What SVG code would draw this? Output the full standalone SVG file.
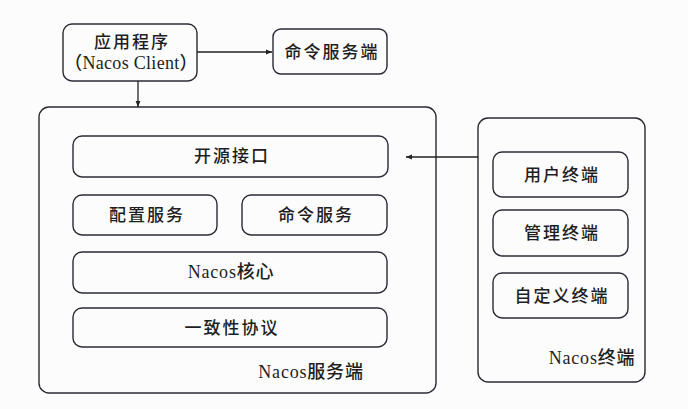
<svg xmlns="http://www.w3.org/2000/svg" width="688" height="409" viewBox="0 0 688 409">
<style>
.box{fill:none;stroke:#2a2a35;stroke-width:1.4}
.t{font-family:"Liberation Serif","Noto Sans CJK SC",serif;font-size:17px;font-weight:500;fill:#1e1e1e;text-anchor:middle;dominant-baseline:central;letter-spacing:2px}
.l{letter-spacing:0.8px;font-size:18px}
.c{stroke:#222;stroke-width:1.3;fill:none}
</style>
<defs>
<marker id="ah" viewBox="0 0 10 10" refX="10" refY="5" markerWidth="8" markerHeight="6" orient="auto" markerUnits="userSpaceOnUse">
<path d="M0,1 L10,5 L0,9 z" fill="#222"/>
</marker>
</defs>
<rect width="688" height="409" fill="#fcfcfc"/>
<g id="app">
<rect class="box" x="63" y="24" width="134" height="57" rx="9"/>
<text class="t" x="132" y="42">应用程序</text>
<text class="t" x="131" y="63" style="letter-spacing:0.3px;font-size:18px">（Nacos Client）</text>
</g>
<g id="cmd-server">
<rect class="box" x="273" y="29" width="114" height="45" rx="8"/>
<text class="t" x="332" y="52">命令服务端</text>
</g>
<g id="nacos-server">
<rect class="box" x="39" y="107" width="397" height="286" rx="10"/>
<text class="t l" x="311" y="372">Nacos服务端</text>
</g>
<g id="open-api">
<rect class="box" x="73" y="136" width="315" height="41" rx="9"/>
<text class="t" x="232" y="156">开源接口</text>
</g>
<g id="config-svc">
<rect class="box" x="73" y="195" width="144" height="40" rx="9"/>
<text class="t" x="147" y="215">配置服务</text>
</g>
<g id="cmd-svc">
<rect class="box" x="242" y="195" width="145" height="40" rx="9"/>
<text class="t" x="316" y="215">命令服务</text>
</g>
<g id="nacos-core">
<rect class="box" x="73" y="252" width="314" height="41" rx="9"/>
<text class="t l" x="231" y="272">Nacos核心</text>
</g>
<g id="consensus">
<rect class="box" x="73" y="308" width="314" height="39" rx="9"/>
<text class="t" x="232" y="328">一致性协议</text>
</g>
<g id="nacos-term">
<rect class="box" x="478" y="118" width="167" height="264" rx="10"/>
<text class="t l" x="592" y="358">Nacos终端</text>
</g>
<g id="user-term">
<rect class="box" x="493" y="152" width="135" height="45" rx="9"/>
<text class="t" x="562" y="175">用户终端</text>
</g>
<g id="admin-term">
<rect class="box" x="493" y="210" width="135" height="46" rx="9"/>
<text class="t" x="562" y="233">管理终端</text>
</g>
<g id="custom-term">
<rect class="box" x="493" y="273" width="135" height="45" rx="9"/>
<text class="t" x="562" y="296">自定义终端</text>
</g>
<g id="connectors">
<line class="c" x1="197" y1="52" x2="272" y2="52" marker-end="url(#ah)"/>
<line class="c" x1="138" y1="81" x2="138" y2="107" marker-end="url(#ah)"/>
<line class="c" x1="478" y1="157" x2="406" y2="157" marker-end="url(#ah)"/>
</g>
</svg>
